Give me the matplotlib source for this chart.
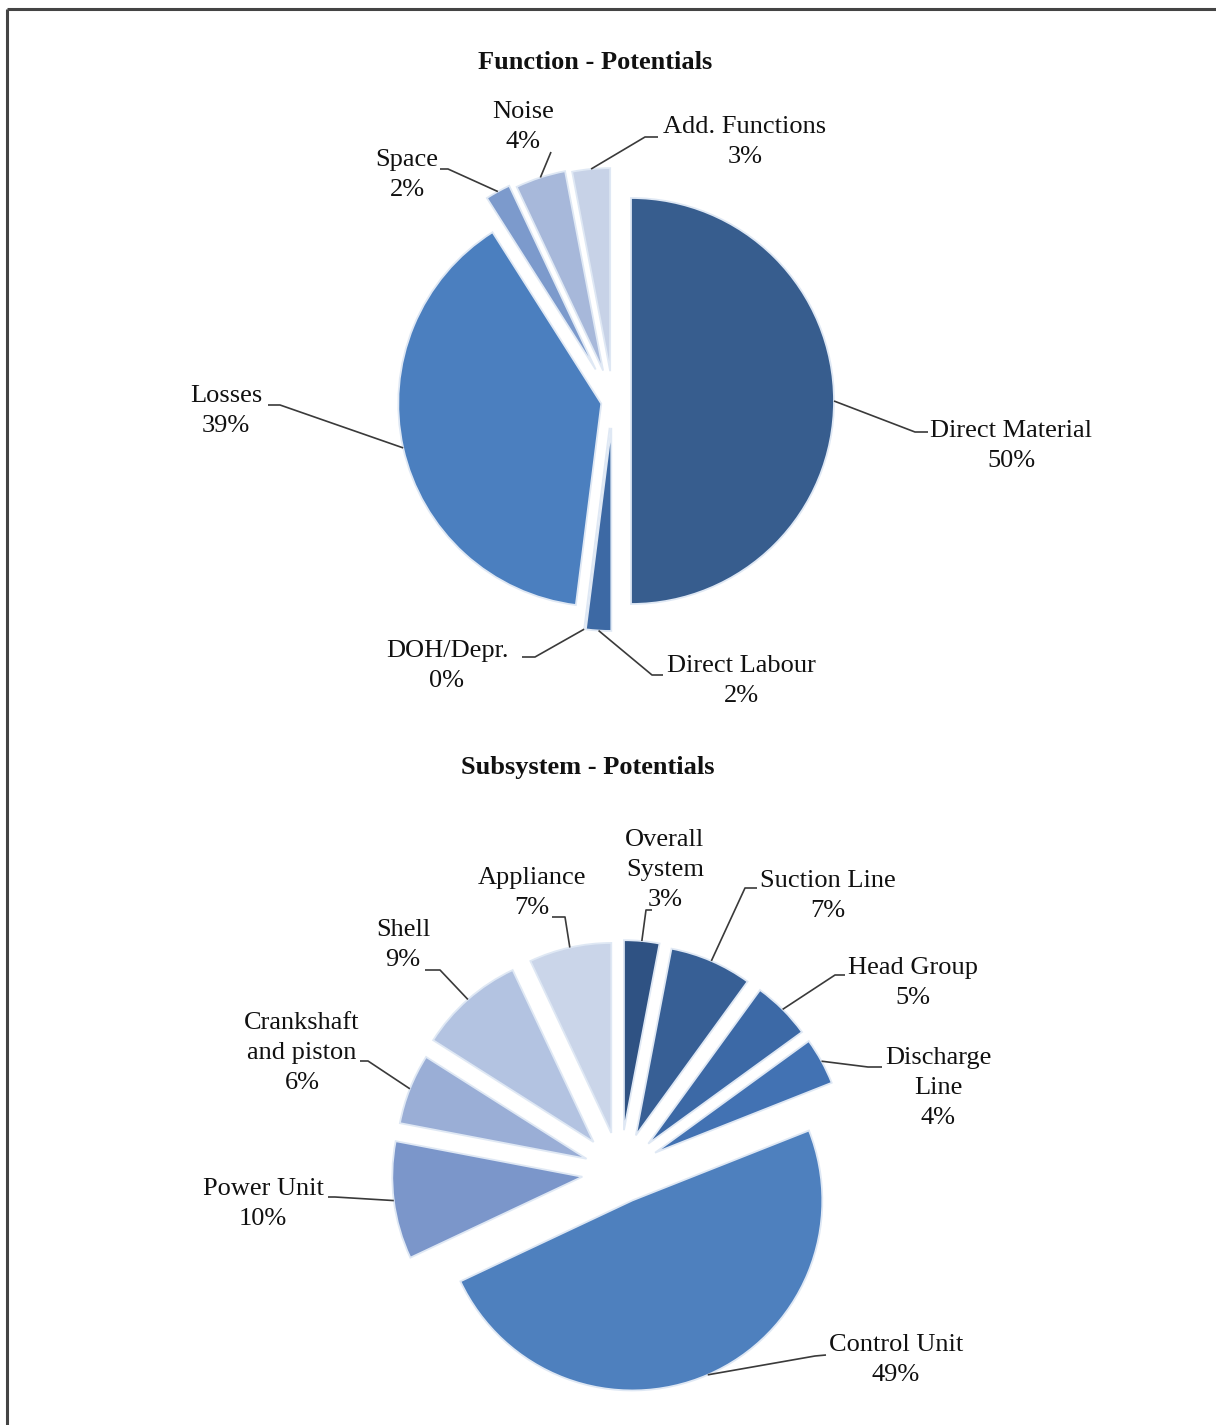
import numpy as np
import matplotlib
matplotlib.use("Agg")
import matplotlib.pyplot as plt

# ---- data -------------------------------------------------------------
function_labels = ["Direct Material", "Direct Labour", "DOH/Depr.", "Losses",
                   "Space", "Noise", "Add. Functions"]
function_values = [50, 2, 0, 39, 2, 4, 3]

subsystem_labels = ["Overall\nSystem", "Suction Line", "Head Group", "Discharge\nLine",
                    "Control Unit", "Power Unit", "Crankshaft\nand piston", "Shell",
                    "Appliance"]
subsystem_values = [3, 7, 5, 4, 49, 10, 6, 9, 7]

# ---- styling / layout -------------------------------------------------
W, H = 1216, 1425
plt.rcParams["font.family"] = ["Liberation Serif", "DejaVu Serif"]
FS = 19

function_colors = ["#375d8e", "#3d69a4", "#4373b0", "#4b7fbf", "#7c9acc", "#a7b8da", "#c7d2e7"]
subsystem_colors = ["#2f5283", "#375f95", "#3c69a6", "#4272b3", "#4e80be",
                    "#7b96ca", "#9aaed6", "#b3c3e1", "#cad5e9"]

top_center, top_r = (613, 401), 203
top_explode_px = [18, 27, 27, 12, 36, 32, 30]
# (elbow, end of leader, text centre)
top_leaders = [
    ((915, 432), (928, 432), (1011, 446)),
    ((652, 675), (663, 675), (741, 681)),
    ((535, 657), (522, 657), (447, 666)),
    ((280, 405), (268, 405), (226, 411)),
    ((448, 169), (440, 169), (407, 175)),
    ((551, 152), (551, 152), (523, 127)),
    ((645, 137), (658, 137), (745, 142)),
]

bot_center, bot_r = (620, 1172), 190
bot_explode_px = [42, 40, 40, 40, 31, 38, 36, 40, 40]
bot_leaders = [
    ((646, 910), (652, 910), (665, 870)),
    ((745, 888), (757, 888), (828, 896)),
    ((835, 975), (845, 975), (913, 983)),
    ((868, 1067), (882, 1067), (938, 1088)),
    ((815, 1356), (826, 1355), (896, 1360)),
    ((335, 1197), (328, 1197), (263, 1204)),
    ((368, 1061), (360, 1061), (302, 1053)),
    ((440, 970), (425, 970), (403, 945)),
    ((565, 917), (552, 917), (532, 893)),
]

fig = plt.figure(figsize=(W / 100, H / 100), dpi=100)
ax = fig.add_axes([0, 0, 1, 1])


def draw_pie(values, labels, colors, center, radius, explode_px, leaders, title, title_xy):
    # y axis is inverted, so counterclock in data space runs clockwise on screen;
    # pie offsets exploded wedges by the explode value in data units
    ax.pie(values, colors=colors, center=center, radius=radius, explode=explode_px,
           startangle=-90, counterclock=True, normalize=True,
           wedgeprops=dict(edgecolor="#dfe8f4", linewidth=1.3))
    total = float(sum(values))
    cum = np.cumsum([0] + list(values)) / total
    for i, (lab, val) in enumerate(zip(labels, values)):
        mid = -90 + 360 * (cum[i] + cum[i + 1]) / 2
        th = np.deg2rad(mid)
        cx = center[0] + explode_px[i] * np.cos(th)
        cy = center[1] + explode_px[i] * np.sin(th)
        sx, sy = cx + radius * np.cos(th), cy + radius * np.sin(th)
        (ex, ey), (fx, fy), (tx, ty) = leaders[i]
        ax.plot([sx, ex, fx], [sy, ey, fy], color="#3a3a3a", lw=1.2,
                solid_capstyle="butt", zorder=3)
        ax.text(tx, ty, f"{lab}\n{val}%", ha="center", va="center",
                fontsize=FS, linespacing=1.45, color="#111111", zorder=4)
    ax.text(title_xy[0], title_xy[1], title, ha="center", va="center",
            fontsize=FS, fontweight="bold", color="#111111")


draw_pie(function_values, function_labels, function_colors, top_center, top_r,
         top_explode_px, top_leaders, "Function - Potentials", (595, 62))
draw_pie(subsystem_values, subsystem_labels, subsystem_colors, bot_center, bot_r,
         bot_explode_px, bot_leaders, "Subsystem - Potentials", (588, 767))

# frame lines along the top and left edge
ax.plot([7, W], [9, 9], color="#444444", lw=2.2, solid_capstyle="butt")
ax.plot([7, 7], [9, H], color="#444444", lw=2.2, solid_capstyle="butt")

ax.set_xlim(0, W)
ax.set_ylim(H, 0)
ax.set_aspect("auto")
ax.axis("off")
fig.savefig("out.png", dpi=100, facecolor="white")
